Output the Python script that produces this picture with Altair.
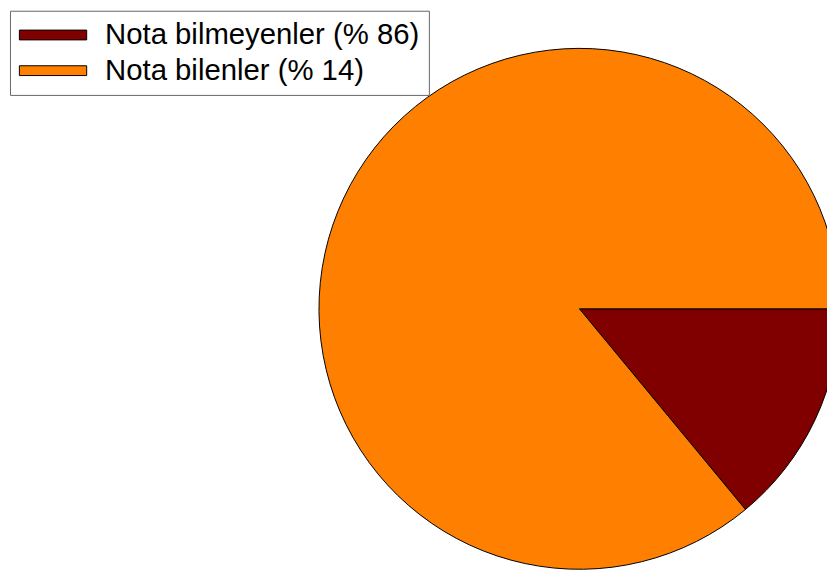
import math
import altair as alt
import pandas as pd

labels = ["Nota bilmeyenler (% 86)", "Nota bilenler (% 14)"]
shares = [14, 86]
colors = ["#800000", "#FF8000"]
order = [0, 1]

df = pd.DataFrame({"group": labels, "share": shares, "order": order})

legend = alt.Legend(
    orient="none",
    legendX=2,
    legendY=0,
    title=None,
    strokeColor="#666666",
    fillColor="white",
    padding=9,
    symbolType="M-1,-0.33L3.53,-0.33L3.53,0.33L-1,0.33Z",
    symbolSize=900,
    symbolStrokeColor="black",
    symbolStrokeWidth=1,
    symbolOpacity=1,
    labelFont="Liberation Sans",
    labelFontSize=29.6,
    labelColor="black",
    labelOffset=56,
    labelLimit=0,
    rowPadding=5,
)

chart = (
    alt.Chart(df)
    .mark_arc(stroke="black", strokeWidth=1, radius=263)
    .encode(
        theta=alt.Theta(
            "share:Q",
            stack=True,
            scale=alt.Scale(range=[math.pi / 2, math.pi / 2 + 2 * math.pi]),
        ),
        color=alt.Color(
            "group:N",
            scale=alt.Scale(domain=labels, range=colors),
            sort=labels,
            legend=legend,
        ),
        order=alt.Order("order:Q"),
        x=alt.value(577),
        y=alt.value(301),
    )
    .properties(
        width=827,
        height=566,
        padding=0,
        autosize=alt.AutoSizeParams(type="none"),
    )
    .configure_view(stroke=None)
)

chart.save("out.html", embed_options={"renderer": "svg", "actions": False})
